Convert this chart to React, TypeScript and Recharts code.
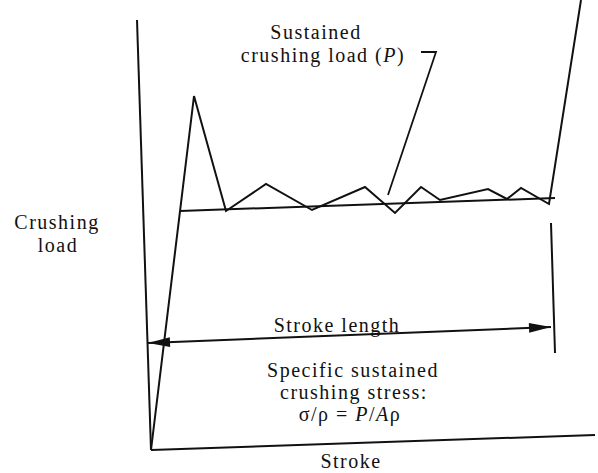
import React from "react";
import { LineChart, Line, XAxis, YAxis, ReferenceDot } from "recharts";

// schematic units: stroke to the right, load upward, origin at the axes corner
const X_DOMAIN = [-151, 447];
const Y_DOMAIN = [-23, 450];

const Y_AXIS = [{ x: 0, y: 0 }, { x: -14, y: 430 }];
const X_AXIS = [{ x: 0, y: 0 }, { x: 444, y: 15 }];

// crushing load vs stroke trace
const LOAD = [
  { x: 0, y: 0 }, { x: 43, y: 354 }, { x: 75, y: 239 }, { x: 115, y: 266 },
  { x: 161, y: 240 }, { x: 214, y: 263 }, { x: 244, y: 237 }, { x: 270, y: 263 },
  { x: 289, y: 250 }, { x: 337, y: 261 }, { x: 356, y: 251 }, { x: 370, y: 262 },
  { x: 398, y: 246 }, { x: 430, y: 450 },
];

const MEAN = [{ x: 29, y: 239 }, { x: 404, y: 252 }];
const LEADER = [{ x: 270, y: 398 }, { x: 285, y: 398 }, { x: 237, y: 255 }];
const END_MARK = [{ x: 400, y: 227 }, { x: 404, y: 97 }];
const ARROW = [{ x: -3, y: 107 }, { x: 400, y: 123 }];

const LABELS = [
  { x: 165, y: 411, parts: [["Sustained", false]] },
  { x: 172, y: 388, parts: [["crushing load (", false], ["P", true], [")", false]] },
  { x: -94, y: 221, parts: [["Crushing", false]] },
  { x: -93, y: 198, parts: [["load", false]] },
  { x: 186, y: 118, parts: [["Stroke length", false]] },
  { x: 202, y: 73, parts: [["Specific sustained", false]] },
  { x: 203, y: 51, parts: [["crushing stress:", false]] },
  { x: 199, y: 29, parts: [["σ/ρ = ", false], ["P", true], ["/", false], ["A", true], ["ρ", false]] },
  { x: 200, y: -18, parts: [["Stroke", false]] },
];

const FONT = "'Liberation Serif', 'Times New Roman', serif";
const INK = "#111";

function Txt(props: any) {
  const vb = props.viewBox || {};
  const cx = vb.x + (vb.width || 0) / 2;
  const cy = vb.y + (vb.height || 0) / 2;
  return (
    <text x={cx} y={cy} textAnchor="middle" fontFamily={FONT} fontSize={20} letterSpacing={1.5} fill={INK}>
      {props.parts.map((p: any, i: number) => (
        <tspan key={i} fontStyle={p[1] ? "italic" : "normal"}>{p[0]}</tspan>
      ))}
    </text>
  );
}

// arrow heads at both ends of the stroke-length dimension line
function ArrowDot(props: any) {
  const { cx, cy, index } = props;
  if (cx == null || cy == null) return null;
  const a = ARROW[1], b = ARROW[0];
  let ang = Math.atan2(-(a.y - b.y), a.x - b.x);
  if (index === 0) ang += Math.PI;
  const L = 22, W = 5;
  const bx = cx - L * Math.cos(ang), by = cy - L * Math.sin(ang);
  const px = -Math.sin(ang) * W, py = Math.cos(ang) * W;
  const pts = `${cx},${cy} ${bx + px},${by + py} ${bx - px},${by - py}`;
  return <polygon key={"ah" + index} points={pts} fill={INK} />;
}

export default function App() {
  const line = {
    dataKey: "y", stroke: INK, strokeWidth: 2, dot: false, activeDot: false,
    isAnimationActive: false, type: "linear" as const,
  };
  return (
    <div style={{ position: "absolute", left: 0, top: 0, background: "#fff" }}>
      <LineChart width={598} height={473} margin={{ top: 0, right: 0, bottom: 0, left: 0 }}>
        <XAxis type="number" dataKey="x" domain={X_DOMAIN} allowDataOverflow hide />
        <YAxis type="number" domain={Y_DOMAIN} allowDataOverflow hide />
        <Line {...line} data={Y_AXIS} />
        <Line {...line} data={X_AXIS} />
        <Line {...line} data={MEAN} />
        <Line {...line} data={LOAD} strokeLinejoin="miter" />
        <Line {...line} data={LEADER} strokeWidth={1.8} />
        <Line {...line} data={END_MARK} />
        <Line {...line} data={ARROW} dot={<ArrowDot />} />
        {LABELS.map((l, i) => (
          <ReferenceDot key={i} x={l.x} y={l.y} r={0} fill="none" stroke="none"
            label={{ content: (p: any) => <Txt {...p} parts={l.parts} /> }} />
        ))}
      </LineChart>
    </div>
  );
}
